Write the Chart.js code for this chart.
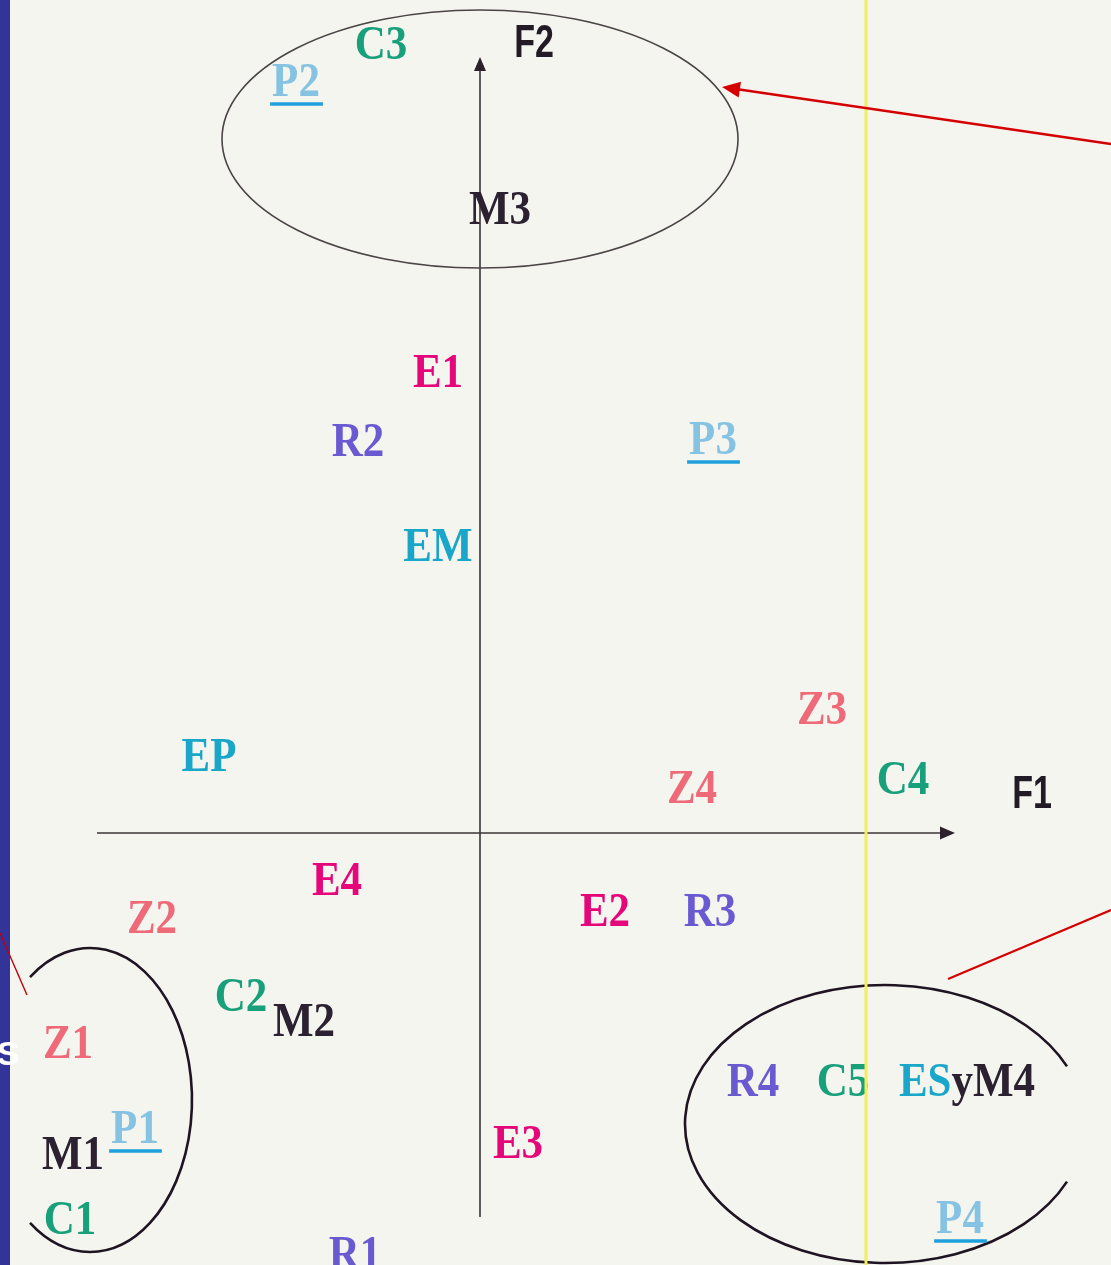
<!DOCTYPE html>
<html>
<head>
<meta charset="utf-8">
<script src="https://cdn.jsdelivr.net/npm/chart.js@4.4.1/dist/chart.umd.min.js"></script>
<style>
  html, body { margin: 0; padding: 0; background: #f5f5f0; overflow: hidden; }
  canvas { display: block; }
</style>
</head>
<body>
<canvas id="c" width="1111" height="1265"></canvas>
<script>
// ---- Data (F1 / F2 factor coordinates) ----
const names  = ['C3','P2','M3','E1','R2','P3','EM','Z3','EP','Z4','C4','E4','Z2','E2','R3','C2','M2','Z1','R4','C5','ESyM4','P1','M1','E3','C1','P4','R1'];
const f1     = [-0.99,-1.84,0.20,-0.42,-1.22,2.33,-0.42,3.42,-2.71,2.12,4.23,-1.43,-3.28,1.25,2.30,-2.39,-1.76,-4.12,2.73,3.63,4.87,-3.45,-4.07,0.38,-4.10,4.80,-1.25];
const f2     = [7.90,7.53,6.25,4.62,3.93,3.95,2.88,1.25,0.78,0.46,0.55,-0.46,-0.84,-0.77,-0.77,-1.62,-1.87,-2.09,-2.47,-2.47,-2.47,-2.94,-3.20,-3.09,-3.85,-3.84,-4.20];
const groups = ['C','P','M','E','R','P','ES','Z','ES','Z','C','E','Z','E','R','C','M','Z','R','C','ESM','P','M','E','C','P','R'];

// axis titles and extents (in factor units)
const axisTitles = ['F1','F2'];
const axisTitleX = [5.52, 0.54];
const axisTitleY = [0.40, 7.91];
const f1AxisRange = [-3.83, 4.75];
const f2AxisRange = [-3.84, 7.76];

// group ellipses (center F1, center F2, radius F1, radius F2)
const ellCx = [0.00, -3.90, 4.05];
const ellCy = [6.94, -2.67, -2.91];
const ellRx = [2.58, 1.02, 2.00];
const ellRy = [1.29, 1.52, 1.39];

// ---- Styles ----
const groupColor = { C:'#18a07a', P:'#86c3e3', M:'#2b2130', E:'#e5067a', R:'#6a5ad2', Z:'#ef6a79', ES:'#1aa6c8' };

const families = [...new Set(groups)];
const datasets = families.map(g => ({
  label: g,
  data: names.map((n,i) => ({x:f1[i], y:f2[i], name:n, g:groups[i]})).filter(p => p.g === g),
  pointRadius: 0, pointHoverRadius: 0, showLine: false
}));

const SERIF = '"Liberation Serif","Times New Roman",serif';
const SANS = '"Liberation Sans",Arial,sans-serif';

function serifText(ctx, parts, cx, cy, underline) {
  const size = 43, sy = 1.12;
  ctx.save();
  ctx.font = 'bold ' + size + 'px ' + SERIF;
  const widths = parts.map(p => ctx.measureText(p[0]).width);
  const total = widths.reduce((a,b)=>a+b,0);
  const base = cy + size*0.662*sy/2;
  let x = cx - total/2;
  ctx.textAlign = 'left';
  ctx.textBaseline = 'alphabetic';
  parts.forEach((p,k) => {
    ctx.save();
    ctx.translate(x, base);
    ctx.scale(1, sy);
    ctx.fillStyle = p[1];
    ctx.fillText(p[0], 0, 0);
    ctx.restore();
    x += widths[k];
  });
  if (underline) {
    ctx.strokeStyle = '#1ea0dc';
    ctx.lineWidth = 3.5;
    ctx.beginPath();
    ctx.moveTo(cx - total/2 - 2, base + 8);
    ctx.lineTo(cx + total/2 + 3, base + 8);
    ctx.stroke();
  }
  ctx.restore();
}

function arrowHead(ctx, x1, y1, x2, y2, len, half, color) {
  const a = Math.atan2(y2-y1, x2-x1);
  ctx.save();
  ctx.fillStyle = color;
  ctx.beginPath();
  ctx.moveTo(x2, y2);
  ctx.lineTo(x2 - len*Math.cos(a) + half*Math.sin(a), y2 - len*Math.sin(a) - half*Math.cos(a));
  ctx.lineTo(x2 - len*Math.cos(a) - half*Math.sin(a), y2 - len*Math.sin(a) + half*Math.cos(a));
  ctx.closePath();
  ctx.fill();
  ctx.restore();
}

const decor = {
  id: 'decor',
  beforeDraw(chart) {
    const {ctx, scales:{x, y}} = chart;
    ctx.save();
    ctx.fillStyle = '#f5f5f0';
    ctx.fillRect(0, 0, chart.width, chart.height);

    // axes
    const x0 = x.getPixelForValue(0), y0 = y.getPixelForValue(0);
    ctx.strokeStyle = '#3a3436';
    ctx.lineWidth = 1.6;
    const hx1 = x.getPixelForValue(f1AxisRange[0]), hx2 = x.getPixelForValue(f1AxisRange[1]);
    ctx.beginPath(); ctx.moveTo(hx1, y0); ctx.lineTo(hx2 - 8, y0); ctx.stroke();
    arrowHead(ctx, hx1, y0, hx2, y0, 15, 6.5, '#2a2228');
    const vy1 = y.getPixelForValue(f2AxisRange[0]), vy2 = y.getPixelForValue(f2AxisRange[1]);
    ctx.beginPath(); ctx.moveTo(x0, vy1); ctx.lineTo(x0, vy2 + 8); ctx.stroke();
    arrowHead(ctx, x0, vy1, x0, vy2, 14, 6, '#2a2228');

    // ellipses
    const unitX = x.getPixelForValue(1) - x.getPixelForValue(0);
    const unitY = y.getPixelForValue(0) - y.getPixelForValue(1);
    const e = ellCx.map((c,i) => ({cx:x.getPixelForValue(c), cy:y.getPixelForValue(ellCy[i]), rx:ellRx[i]*unitX, ry:ellRy[i]*unitY}));
    // top ellipse (full)
    ctx.strokeStyle = '#4a4446'; ctx.lineWidth = 1.6;
    ctx.beginPath(); ctx.ellipse(e[0].cx, e[0].cy, e[0].rx, e[0].ry, 0, 0, Math.PI*2); ctx.stroke();
    // left ellipse (open on the left)
    ctx.strokeStyle = '#1e1422'; ctx.lineWidth = 2.6;
    const aL = Math.acos((30 - e[1].cx) / e[1].rx);
    ctx.beginPath(); ctx.ellipse(e[1].cx, e[1].cy, e[1].rx, e[1].ry, 0, -aL, aL); ctx.stroke();
    // right ellipse (open on the right)
    const aR = Math.acos((1067 - e[2].cx) / e[2].rx);
    ctx.beginPath(); ctx.ellipse(e[2].cx, e[2].cy, e[2].rx, e[2].ry, 0, aR, Math.PI*2 - aR); ctx.stroke();

    // axis titles
    axisTitles.forEach((t,i) => {
      const px = x.getPixelForValue(axisTitleX[i]), py = y.getPixelForValue(axisTitleY[i]);
      ctx.save();
      ctx.translate(px, py);
      ctx.scale(0.74, 1.0);
      ctx.font = 'bold 46px ' + SANS;
      ctx.fillStyle = '#221a24';
      ctx.textAlign = 'center'; ctx.textBaseline = 'middle';
      ctx.fillText(t, 0, 2);
      ctx.restore();
    });
    ctx.restore();
  },
  afterDatasetsDraw(chart) {
    const {ctx} = chart;
    chart.data.datasets.forEach((ds, di) => {
      const meta = chart.getDatasetMeta(di);
      meta.data.forEach((pt, k) => {
        const d = ds.data[k];
        if (d.g === 'ESM') {
          serifText(ctx, [['ES', groupColor.ES], ['yM4', groupColor.M]], pt.x, pt.y, false);
        } else {
          serifText(ctx, [[d.name, groupColor[d.g]]], pt.x, pt.y, d.g === 'P');
        }
      });
    });
  },
  afterDraw(chart) {
    const {ctx, scales:{x, y}} = chart;
    ctx.save();
    // yellow overlay line
    const yx = x.getPixelForValue(3.86);
    ctx.strokeStyle = '#f2ee5c'; ctx.lineWidth = 3;
    ctx.beginPath(); ctx.moveTo(yx, 0); ctx.lineTo(yx, chart.height); ctx.stroke();
    // red pointer lines
    ctx.strokeStyle = '#d40000'; ctx.lineWidth = 2.5;
    const p = (a,b) => [x.getPixelForValue(a), y.getPixelForValue(b)];
    let [ax1, ay1] = p(6.31, 6.89), [ax2, ay2] = p(2.42, 7.46);
    ctx.beginPath(); ctx.moveTo(ax1, ay1); ctx.lineTo(ax2 + 14, ay2 + 2); ctx.stroke();
    arrowHead(ctx, ax1, ay1, ax2, ay2, 18, 8, '#d40000');
    ctx.lineWidth = 2.2;
    [ax1, ay1] = p(6.31, -0.77); [ax2, ay2] = p(4.68, -1.46);
    ctx.beginPath(); ctx.moveTo(ax1, ay1); ctx.lineTo(ax2, ay2); ctx.stroke();
    // blue side bar
    ctx.fillStyle = '#33349a';
    ctx.fillRect(0, 0, 10, chart.height);
    ctx.fillStyle = '#ffffff';
    ctx.font = 'bold 34px ' + SANS;
    ctx.textAlign = 'center'; ctx.textBaseline = 'middle';
    ctx.fillText('S', 8, 1056);
    ctx.strokeStyle = '#c00010'; ctx.lineWidth = 1.4;
    [ax1, ay1] = p(-4.8, -1.0); [ax2, ay2] = p(-4.53, -1.62);
    ctx.beginPath(); ctx.moveTo(ax1, ay1); ctx.lineTo(ax2, ay2); ctx.stroke();
    ctx.restore();
  }
};

new Chart(document.getElementById('c'), {
  type: 'scatter',
  data: { datasets },
  options: {
    responsive: false,
    animation: false,
    events: [],
    layout: { padding: 0 },
    plugins: { legend: { display: false }, tooltip: { enabled: false } },
    scales: {
      x: { type: 'linear', min: -4.8, max: 6.31, display: false },
      y: { type: 'linear', min: -4.32, max: 8.33, display: false }
    }
  },
  plugins: [decor]
});
</script>
</body>
</html>
